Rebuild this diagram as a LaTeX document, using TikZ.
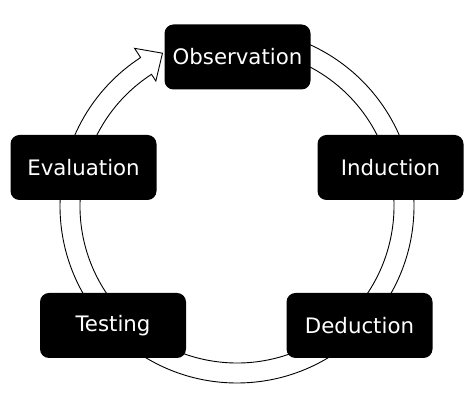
\documentclass[tikz,border=0pt]{standalone}
\usepackage{fontspec}
\setmainfont{DejaVu Sans}
\usepackage{tikz}
\usetikzlibrary{positioning,calc}

\tikzset{
  etapa/.style={fill=black,text=white,rounded corners=9pt,minimum width=146pt,
    minimum height=65pt,inner sep=0pt,font=\fontsize{21.3}{25}\selectfont},
  anillo/.style={draw=black,fill=white,line width=0.9pt,line join=miter}
}

\begin{document}
\begin{tikzpicture}[x=1pt,y=1pt]
  \useasboundingbox (0,0) rectangle (474,414);
  \coordinate (C) at (237,208);
  % flecha hueca circular
  \draw[anillo,shift={(C)}] (90:177) arc[start angle=90,end angle=-237,radius=177]
    -- (123:188) -- (116:170) -- (123:149) -- (123:157)
    arc[start angle=-237,end angle=90,radius=157] -- cycle;

  \node[etapa] (obs) at (237.5,357) {Observation};
  \node[etapa] (ind) at (390.5,246.5) {Induction};
  \node[etapa] (ded) at (359.5,88.5) {Deduction};
  \node[etapa] (tes) at (113,88.5) {Testing};
  \node[etapa] (eva) at (83.5,246.5) {Evaluation};
\end{tikzpicture}
\end{document}
